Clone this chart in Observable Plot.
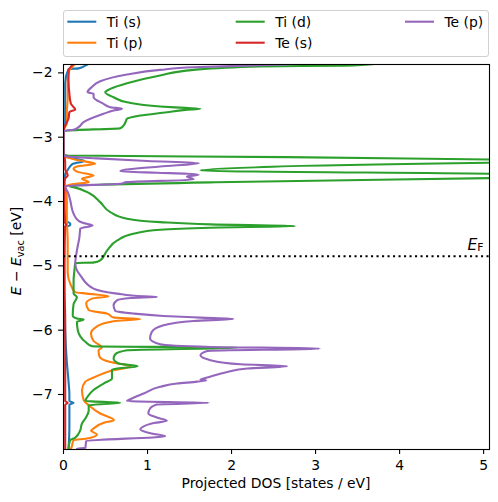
<!DOCTYPE html>
<html><head><meta charset="utf-8">
<script src="https://cdn.jsdelivr.net/npm/d3@7"></script>
<script src="https://cdn.jsdelivr.net/npm/@observablehq/plot@0.6"></script>
<style>
body{margin:0;background:#fff;}
#chart{width:498px;height:502px;}
</style></head><body><div id="chart"></div>
<script>
const seriesNames = ["Ti (s)", "Ti (p)", "Ti (d)", "Te (s)", "Te (p)"];
const seriesColors = ["#1f77b4", "#ff7f0e", "#2ca02c", "#d62728", "#9467bd"];

// [energy (eV), projected DOS (states/eV)]
const tiS = [
  [-1.86,0.30],[-1.887,0.26],[-1.93,0.18],[-1.94,0.06],[-2.16,0.02],[-2.5,0.02],[-2.8,0.02],[-2.90,0],
  [-3.28,0],[-3.30,0.02],[-3.33,0.12],[-3.37,0.25],[-3.41,0.12],[-3.47,0.07],[-3.53,0.04],[-3.57,0.02],
  [-3.76,0.01],[-4.0,0.01],[-4.30,0.02],[-4.34,0.08],[-4.37,0.08],[-4.40,0.02],[-5.0,0.01],[-6.0,0.02],
  [-6.5,0.04],[-6.8,0.06],[-7.0,0.07],[-7.10,0.07],[-7.13,0.12],[-7.16,0.07],[-7.5,0.07],[-7.86,0.06]
];
const tiP = [
  [-1.86,0.14],[-1.887,0.12],[-1.96,0.07],[-2.12,0.05],[-2.40,0.05],[-2.6,0.04],[-2.78,0.04],[-2.90,0],
  [-3.28,0],[-3.31,0.03],[-3.36,0.18],[-3.413,0.378],[-3.455,0.16],[-3.49,0.12],[-3.543,0.18],[-3.595,0.358],
  [-3.646,0.22],[-3.699,0.30],[-3.73,0.12],[-3.766,0.02],[-3.80,0.03],[-4.0,0.04],[-4.3,0.04],[-4.6,0.05],
  [-5.1,0.05],[-5.276,0.08],[-5.41,0.14],[-5.432,0.279],[-5.474,0.537],[-5.51,0.338],[-5.587,0.27],[-5.69,0.30],
  [-5.742,0.517],[-5.804,0.596],[-5.826,0.914],[-5.862,0.596],[-5.94,0.40],[-6.053,0.327],[-6.168,0.358],
  [-6.27,0.457],[-6.312,0.417],[-6.415,0.43],[-6.494,0.557],[-6.51,0.616],[-6.56,0.795],[-6.633,0.557],
  [-6.736,0.358],[-6.80,0.26],[-6.93,0.22],[-7.09,0.24],[-7.166,0.30],[-7.295,0.437],[-7.40,0.60],
  [-7.44,0.48],[-7.528,0.358],[-7.565,0.327],[-7.62,0.398],[-7.683,0.279],[-7.71,0.119],[-7.84,0.09],[-7.86,0.08]
];
const tiD = [
  [-1.86,3.7],[-1.887,3.34],[-1.90,2.34],[-1.953,1.55],[-2.04,1.15],[-2.16,0.756],[-2.249,0.557],[-2.30,0.497],
  [-2.379,0.596],[-2.457,0.756],[-2.523,1.15],[-2.545,1.45],[-2.559,1.63],[-2.575,1.45],[-2.612,1.23],
  [-2.663,0.914],[-2.714,0.756],[-2.76,0.74],[-2.818,0.715],[-2.86,0.676],[-2.896,0.05],[-2.91,0],
  [-3.27,0],[-3.285,0.05],[-3.31,2.66],[-3.346,5.07],[-3.37,7.0],[-3.398,5.07],[-3.517,1.63],[-3.568,5.07],
  [-3.60,7.0],[-3.637,5.07],[-3.70,1.81],[-3.765,0.08],[-3.776,0.12],[-3.879,0.318],[-4.009,0.437],
  [-4.164,0.557],[-4.267,0.756],[-4.32,1.15],[-4.356,1.75],[-4.382,2.76],[-4.407,1.75],[-4.438,1.15],
  [-4.50,0.83],[-4.604,0.64],[-4.759,0.52],[-4.915,0.437],[-4.95,0.35],[-4.956,0.14],[-5.07,0.13],
  [-5.225,0.12],[-5.43,0.12],[-5.49,0.16],[-5.59,0.12],[-5.77,0.11],[-5.82,0.16],[-5.835,0.24],[-5.87,0.16],
  [-6.0,0.17],[-6.18,0.26],[-6.25,0.34],[-6.27,2.07],[-6.312,0.756],[-6.374,0.616],[-6.441,0.596],
  [-6.519,0.656],[-6.56,0.882],[-6.61,0.577],[-6.75,0.577],[-6.83,0.477],[-6.93,0.358],[-7.01,0.30],
  [-7.10,0.26],[-7.13,0.676],[-7.166,0.30],[-7.244,0.30],[-7.373,0.26],[-7.45,0.22],[-7.554,0.20],[-7.67,0.14],
  [-7.71,0.08],[-7.84,0.06],[-7.86,0.06]
];
const teS = [
  [-1.86,0.12],[-1.887,0.10],[-1.96,0.06],[-2.12,0.06],[-2.326,0.07],[-2.48,0.088],[-2.57,0.14],[-2.61,0.07],
  [-2.71,0.06],[-2.82,0.02],[-2.90,0],[-3.28,0],[-3.30,0.01],[-3.40,0.02],[-3.50,0.02],[-3.595,0.05],
  [-3.64,0.02],[-3.70,0.01],[-3.76,0.01],[-4.3,0.01],[-4.37,0.03],[-4.40,0.01],[-5.4,0.01],[-5.8,0.02],
  [-6.3,0.02],[-6.8,0.02],[-7.10,0.02],[-7.13,0.05],[-7.16,0.02],[-7.5,0.02],[-7.86,0.02]
];
const teP = [
  [-1.86,2.8],[-1.882,2.35],[-1.913,1.55],[-1.953,1.15],[-2.026,0.756],[-2.13,0.437],[-2.22,0.338],
  [-2.30,0.286],[-2.326,0.358],[-2.379,0.358],[-2.481,0.477],[-2.534,0.557],[-2.559,0.696],[-2.585,0.596],
  [-2.637,0.477],[-2.767,0.238],[-2.845,0.179],[-2.885,0.119],[-2.90,0],[-3.28,0],[-3.30,0.05],[-3.33,0.4],
  [-3.37,1.0],[-3.404,1.61],[-3.455,1.15],[-3.528,0.676],[-3.553,1.11],[-3.568,1.47],[-3.584,1.61],
  [-3.610,1.47],[-3.657,1.55],[-3.699,0.756],[-3.724,0.676],[-3.761,0.02],[-3.88,0.06],[-3.98,0.08],
  [-4.19,0.12],[-4.30,0.18],[-4.335,0.238],[-4.371,0.346],[-4.42,0.20],[-4.55,0.19],[-4.76,0.16],
  [-4.96,0.14],[-5.07,0.16],[-5.147,0.20],[-5.354,0.358],[-5.432,0.636],[-5.474,0.954],[-5.484,1.113],
  [-5.50,0.80],[-5.536,0.636],[-5.613,0.596],[-5.70,0.616],[-5.742,0.834],[-5.779,1.19],[-5.805,1.63],
  [-5.826,2.02],[-5.857,1.55],[-5.924,1.19],[-6.028,1.05],[-6.13,1.03],[-6.219,1.15],[-6.261,1.75],
  [-6.286,3.05],[-6.323,1.71],[-6.39,1.63],[-6.467,1.75],[-6.53,2.11],[-6.56,2.66],[-6.597,2.19],
  [-6.65,1.95],[-6.736,1.71],[-6.767,1.63],[-6.78,1.70],[-6.80,1.59],[-6.83,1.35],[-6.88,1.15],
  [-6.985,0.954],[-7.062,0.815],[-7.104,0.756],[-7.13,1.73],[-7.155,1.11],[-7.218,1.03],[-7.295,1.01],
  [-7.357,1.11],[-7.41,1.23],[-7.45,1.05],[-7.544,0.914],[-7.606,1.05],[-7.648,1.21],[-7.725,0.27],
  [-7.83,0.26],[-7.845,0.16],[-7.86,0.16]
];

const fermiLevel = -4.85;
const xTicks = [0, 1, 2, 3, 4, 5];
const yTicks = [-7, -6, -5, -4, -3, -2];
const xDomain = [0, 5.07];
const yDomain = [-7.855, -1.87];
const xLabel = "Projected DOS [states / eV]";

const allSeries = [tiS, tiP, tiD, teS, teP];
const rows = [];
allSeries.forEach((arr, i) => arr.forEach(([e, d]) => rows.push({series: seriesNames[i], e, d})));

const fmt = d3.format("d");
const W = 498, H = 502, mL = 63, mR = 9, mT = 64, mB = 53;
const font = "DejaVu Sans";

const chart = Plot.plot({
  width: W, height: H,
  marginLeft: mL, marginRight: mR, marginTop: mT, marginBottom: mB,
  style: {fontFamily: font, fontSize: "13.9px", background: "#fff", color: "#000"},
  x: {domain: xDomain},
  y: {domain: yDomain},
  color: {domain: seriesNames, range: seriesColors},
  marks: [
    Plot.line(rows, {x: "d", y: "e", z: "series", stroke: "series", strokeWidth: 2.1, clip: true, curve: "monotone-y"}),
    Plot.ruleY([fermiLevel], {stroke: "#000", strokeWidth: 2.1, strokeDasharray: "2.1,3.4"}),
    Plot.frame({stroke: "#000", strokeWidth: 1.1}),
    Plot.axisX({ticks: xTicks, tickFormat: fmt, tickSize: 5, tickPadding: 6, label: null, strokeWidth: 1.1}),
    Plot.axisY({ticks: yTicks, tickFormat: fmt, tickSize: 5, tickPadding: 6, label: null, strokeWidth: 1.1})
  ]
});
document.getElementById("chart").appendChild(chart);

const svg = d3.select(chart);
// x-axis label
svg.append("text").attr("x", (mL + W - mR) / 2).attr("y", 488)
  .attr("text-anchor", "middle").attr("font-family", font).attr("font-size", 13.9).attr("fill", "#000")
  .text(xLabel);
// y-axis label: E − E_vac [eV]
const yl = svg.append("text").attr("transform", `translate(21,${251}) rotate(-90)`)
  .attr("text-anchor", "middle").attr("font-family", font).attr("font-size", 13.9).attr("fill", "#000");
yl.append("tspan").attr("font-style", "italic").text("E");
yl.append("tspan").text(" − ");
yl.append("tspan").attr("font-style", "italic").text("E");
yl.append("tspan").attr("font-size", 9.7).attr("dy", 2.8).text("vac");
yl.append("tspan").attr("dy", -2.8).text(" [eV]");
// Fermi level label
const ef = svg.append("text").attr("x", 483.5).attr("y", 249.5).attr("text-anchor", "end")
  .attr("font-family", font).attr("font-size", 15.5).attr("fill", "#000");
ef.append("tspan").attr("font-style", "italic").text("E");
ef.append("tspan").attr("font-size", 10.8).attr("dy", 1.5).text("F");

// legend
const lg = svg.append("g").attr("text-anchor", "start");
lg.append("rect").attr("x", 63.5).attr("y", 10.5).attr("width", 425).attr("height", 46)
  .attr("rx", 2.5).attr("fill", "#fff").attr("fill-opacity", 0.8).attr("stroke", "#d0d0d0").attr("stroke-width", 1);
const legendCols = [67.3, 235.7, 405];
const legendRows = [21.7, 42.7];
seriesNames.forEach((name, i) => {
  const c = Math.floor(i / 2), r = i % 2;
  const x = legendCols[c], y = legendRows[r];
  lg.append("line").attr("x1", x).attr("x2", x + 29).attr("y1", y).attr("y2", y)
    .attr("stroke", seriesColors[i]).attr("stroke-width", 2.1);
  lg.append("text").attr("x", x + 39.5).attr("y", y + 5).attr("text-anchor", "start")
    .attr("font-family", font).attr("font-size", 13.9).attr("fill", "#000").text(name);
});
</script></body></html>
